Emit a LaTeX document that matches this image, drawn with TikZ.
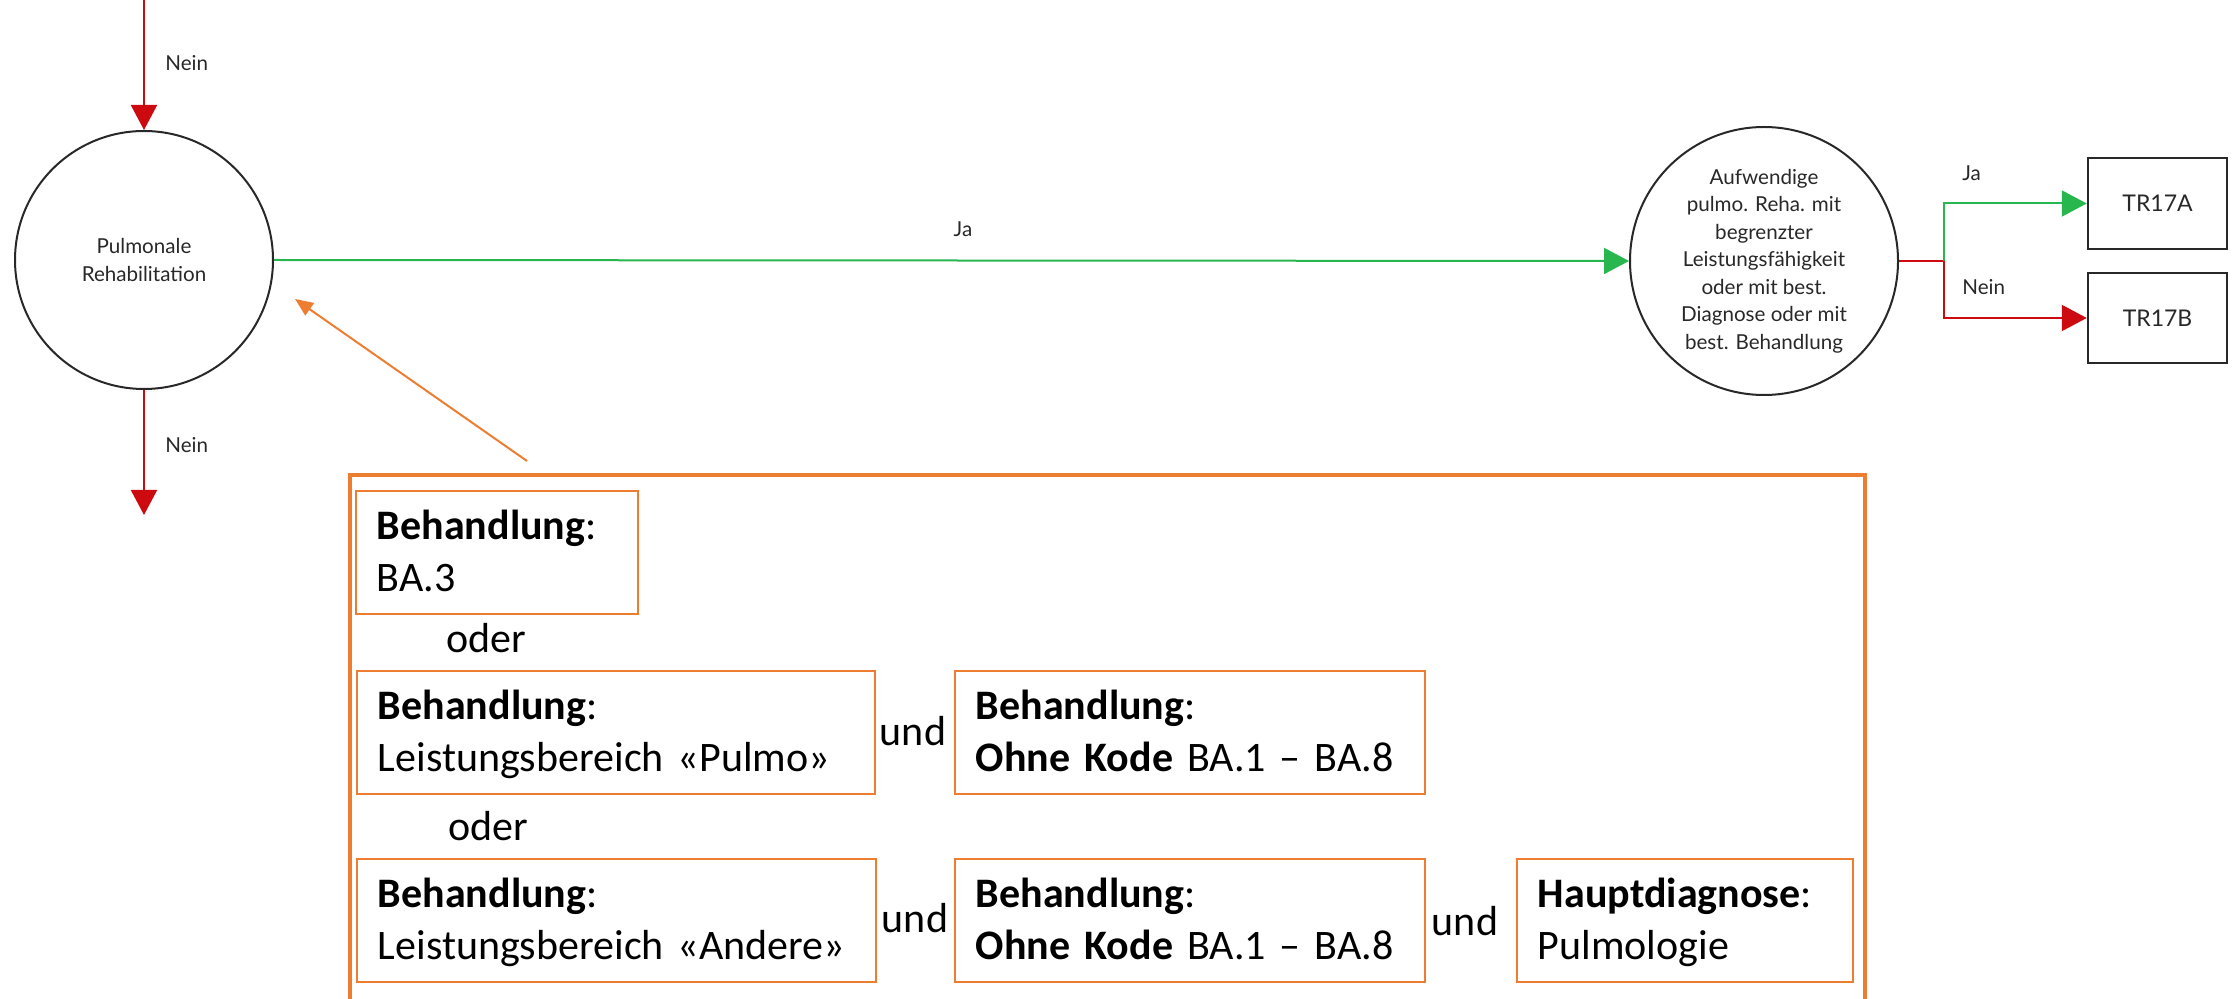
\documentclass[tikz,border=0pt]{standalone}
\usepackage{fontspec}
\setmainfont{Carlito}
\newfontfamily\lato{Lato}
\usetikzlibrary{arrows.meta,calc}
\definecolor{cred}{RGB}{205,10,15}
\definecolor{cgreen}{RGB}{40,182,78}
\definecolor{corange}{RGB}{237,125,49}
\definecolor{cdark}{RGB}{40,40,40}
\newcommand{\condtext}[2]{\noindent\rule{0pt}{18.5pt}\mbox{#1}\\\mbox{#2}\rule[-5pt]{0pt}{5pt}}
\tikzset{
  decision/.style={circle, draw=cdark, line width=1pt, inner sep=0pt, align=center,
    text=cdark, font=\lato\fontsize{10.3}{13.75}\selectfont},
  leaf/.style={rectangle, draw=cdark, line width=1.25pt, inner sep=0pt,
    minimum width=69.5pt, text=cdark, font=\lato\fontsize{11.5}{13}\selectfont},
  flowlbl/.style={font=\lato\fontsize{10.3}{12}\selectfont, text=cdark, inner sep=0pt, anchor=base west},
  redarrow/.style={draw=cred, line width=1pt, -{Triangle[length=12.5pt,width=13pt,fill=cred]}},
  greenarrow/.style={draw=cgreen, line width=1pt, -{Triangle[length=12.5pt,width=13pt,fill=cgreen]}},
  cond/.style={rectangle, draw=corange, line width=0.9pt, anchor=north west, inner xsep=10.5pt,
    inner ysep=0pt, minimum height=61.5pt, align=left, font=\fontsize{21}{26}\selectfont},
  joiner/.style={font=\fontsize{21}{24}\selectfont, inner sep=0pt, anchor=base},
}
\begin{document}
\begin{tikzpicture}[x=0.5pt, y=-0.5pt]
\useasboundingbox (0,0) rectangle (2232,999);

% decision circles
\node[decision, minimum size=129pt] (pulmo) at (144,260) {Pulmonale\\Rehabilitation};
\node[decision, minimum size=134pt] (aufw) at (1764,261)
  {Aufwendige\\pulmo. Reha. mit\\begrenzter\\Leistungsfähigkeit\\oder mit best.\\Diagnose oder mit\\best. Behandlung};

% leaves
\node[leaf, minimum height=45.5pt] (tra) at (2157.5,203.5) {TR17A};
\node[leaf, minimum height=45pt] (trb) at (2157.5,318) {TR17B};

% helper coordinates
\coordinate (topin) at (144,0);
\coordinate (botout) at (144,515);
\coordinate (br) at (1944,261);
\coordinate (oa) at (527,461);
\coordinate (ob) at (295,299);

% connectors
\draw[redarrow] (topin) -- (pulmo.north);
\draw[redarrow] (pulmo.south) -- (botout);
\draw[greenarrow] (pulmo.east) -- (aufw.west);
\draw[draw=cred, line width=1pt] (aufw.east) -- (br);
\draw[greenarrow] (br) |- (tra.west);
\draw[redarrow] (br) |- (trb.west);

% labels
\node[flowlbl] (l1) at (165,70.5) {Nein};
\node[flowlbl] (l2) at (165,453) {Nein};
\node[flowlbl, anchor=base] (l3) at (963,237) {Ja};
\node[flowlbl] (l4) at (1962,181) {Ja};
\node[flowlbl] (l5) at (1962,295) {Nein};

% outer orange frame
\node[rectangle, draw=corange, line width=2pt, anchor=north west, inner sep=0pt,
  minimum width=757.5pt, minimum height=290pt] (outer) at (348,473) {};
\draw[draw=corange, line width=1pt, -{Triangle[length=9pt,width=7.5pt,fill=corange]}] (oa) -- (ob);

% condition boxes
\node[cond, text width=120pt] (b1) at (355,490) {\condtext{\textbf{Behandlung}:}{BA.3}};
\node[joiner] (o1) at (486,652) {oder};
\node[cond, text width=238pt] (b2) at (356,670) {\condtext{\textbf{Behandlung}:}{Leistungsbereich «Pulmo»}};
\node[joiner] (u1) at (913,745) {und};
\node[cond, text width=214pt] (b3) at (954,670) {\condtext{\textbf{Behandlung}:}{\textbf{Ohne Kode} BA.1 – BA.8}};
\node[joiner] (o2) at (488,840) {oder};
\node[cond, text width=238.5pt] (b4) at (356,858) {\condtext{\textbf{Behandlung}:}{Leistungsbereich «Andere»}};
\node[joiner] (u2) at (915,932) {und};
\node[cond, text width=214pt] (b5) at (954,858) {\condtext{\textbf{Behandlung}:}{\textbf{Ohne Kode} BA.1 – BA.8}};
\node[joiner] (u3) at (1465,935) {und};
\node[cond, text width=147pt] (b6) at (1516,858) {\condtext{\textbf{Hauptdiagnose}:}{Pulmologie}};
\end{tikzpicture}
\end{document}
